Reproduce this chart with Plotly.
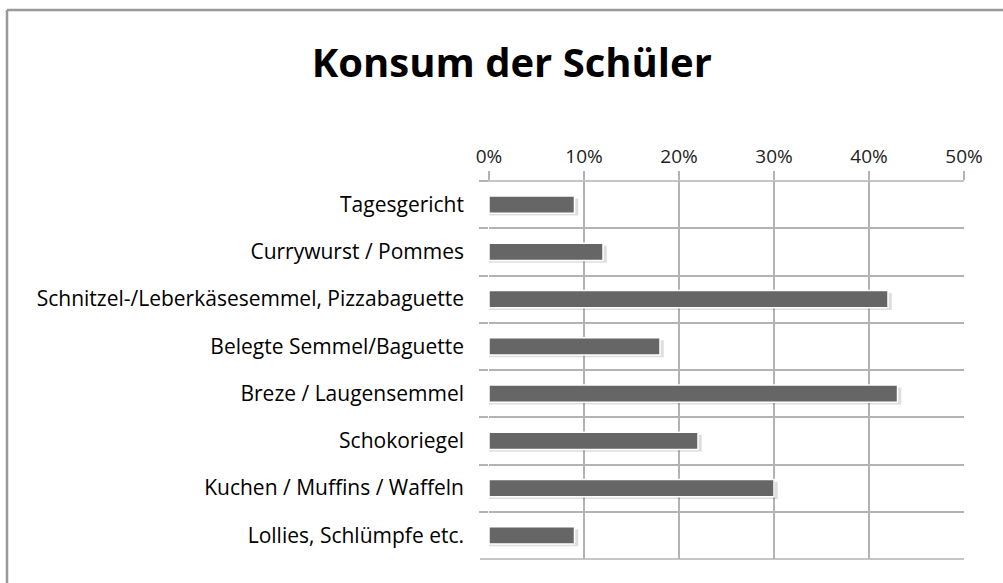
import plotly.graph_objects as go

categories = [
    "Tagesgericht",
    "Currywurst / Pommes",
    "Schnitzel-/Leberkäsesemmel, Pizzabaguette",
    "Belegte Semmel/Baguette",
    "Breze / Laugensemmel",
    "Schokoriegel",
    "Kuchen / Muffins / Waffeln",
    "Lollies, Schlümpfe etc.",
]
values = [0.09, 0.12, 0.42, 0.18, 0.43, 0.22, 0.30, 0.09]
x_ticks = [0, 0.1, 0.2, 0.3, 0.4, 0.5]

grid_col = "#b3b3b3"
font_name = "Open Sans"

fig = go.Figure()

# soft shadow behind each bar
fig.add_trace(go.Bar(
    y=categories, x=[v + 0.004 for v in values], orientation="h",
    width=0.36, offset=-0.13,
    marker=dict(color="rgba(0,0,0,0.13)", line=dict(width=0)),
    hoverinfo="skip", showlegend=False,
))
fig.add_trace(go.Bar(
    y=categories, x=values, orientation="h",
    width=0.36, offset=-0.18,
    marker=dict(color="#666666", line=dict(color="white", width=1.5)),
    showlegend=False,
))

n = len(categories)
tick_out = -9 / 475  # paper fraction for the small outer tick
fig.update_layout(
    width=1003, height=583,
    margin=dict(l=489, r=39, t=181, b=24),
    paper_bgcolor="white", plot_bgcolor="white",
    barmode="overlay",
    font=dict(family=font_name, size=21, color="#000000"),
    title=dict(
        text="<b>Konsum der Schüler</b>",
        font=dict(family=font_name, size=40, color="#000000"),
        x=0.048, xref="paper", xanchor="center",
        y=1 - 63 / 583, yref="container", yanchor="middle",
    ),
    xaxis=dict(
        side="top", range=[0, 0.5], tickvals=x_ticks, tickformat=".0%",
        showgrid=True, gridcolor=grid_col, gridwidth=1.5,
        ticks="outside", ticklen=9, tickcolor=grid_col, tickwidth=1.5,
        showline=False, zeroline=False,
        tickfont=dict(size=19, color="#222222"),
    ),
    yaxis=dict(
        range=[n - 0.5, -0.5], type="category",
        tickson="boundaries", ticks="outside", ticklen=9,
        tickcolor=grid_col, tickwidth=1.5,
        showgrid=True, gridcolor=grid_col, gridwidth=1.5,
        showline=False, zeroline=False,
        ticklabelstandoff=24,
    ),
    shapes=[
        # outer frame (left and top)
        dict(type="line", xref="paper", yref="paper",
             x0=(7 - 489) / 475, x1=(7 - 489) / 475,
             y0=-0.2, y1=(559 - 10) / 378,
             line=dict(color="#999999", width=2.5)),
        dict(type="line", xref="paper", yref="paper",
             x0=(7 - 489) / 475, x1=(1010 - 489) / 475,
             y0=(559 - 10) / 378, y1=(559 - 10) / 378,
             line=dict(color="#999999", width=2.5)),
        # top and bottom category boundaries
        dict(type="line", xref="paper", yref="paper", layer="below",
             x0=tick_out, x1=1, y0=1, y1=1,
             line=dict(color=grid_col, width=1.5)),
        dict(type="line", xref="paper", yref="paper", layer="below",
             x0=tick_out, x1=1, y0=0, y1=0,
             line=dict(color=grid_col, width=1.5)),
    ],
)

fig.write_html("out.html", config={"displayModeBar": False},
               post_script="document.body.style.margin='0';")
